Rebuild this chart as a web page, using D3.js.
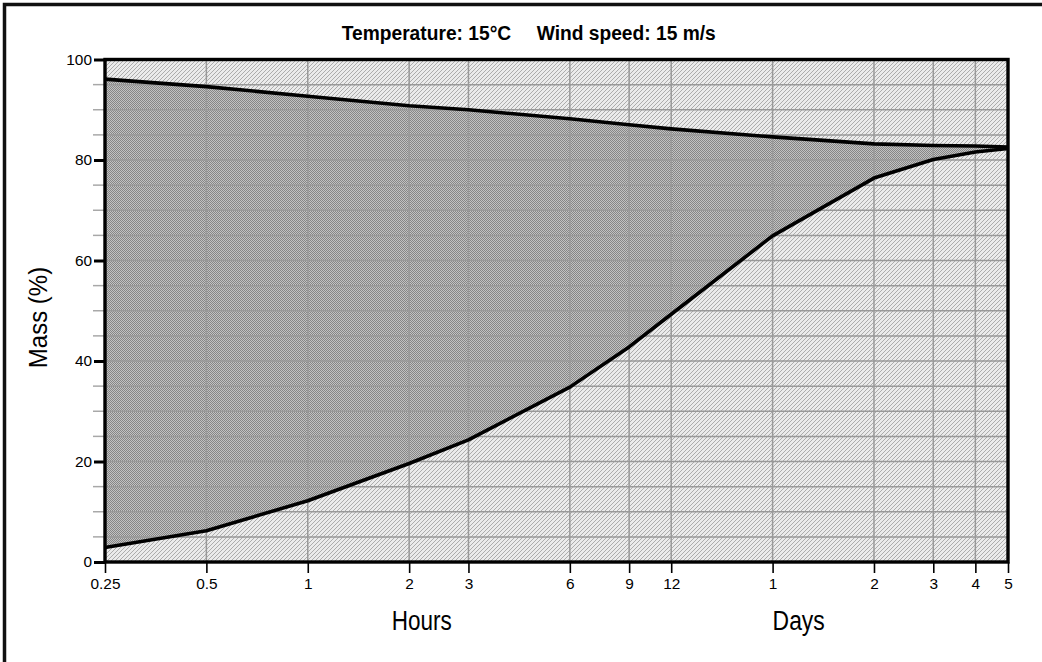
<!DOCTYPE html>
<html>
<head>
<meta charset="utf-8">
<script src="https://cdn.jsdelivr.net/npm/d3@7"></script>
<style>
  body { margin: 0; background: #ffffff; }
  #chartDiv { width: 1042px; height: 662px; }
  text { font-family: "Liberation Sans", Arial, sans-serif; fill: #000; }
</style>
</head>
<body>
<div id="chartDiv"></div>
<script>
//----------------------------------------------------------------------------------------------------
// evaporation chart: mass remaining (%) against time, log time axis
//----------------------------------------------------------------------------------------------------
var timeHours   = [0.25, 0.5, 1, 2, 3, 6, 9, 12, 24, 48, 72, 96, 120];
var timeLabels  = ["0.25", "0.5", "1", "2", "3", "6", "9", "12", "1", "2", "3", "4", "5"];
var upperMass   = [96.1, 94.6, 92.7, 90.8, 90.0, 88.2, 87.0, 86.2, 84.6, 83.2, 82.9, 82.8, 82.6];
var lowerMass   = [2.9, 6.2, 12.2, 19.6, 24.3, 34.8, 42.8, 49.3, 64.9, 76.4, 80.1, 81.6, 82.3];
var massTicks   = [0, 20, 40, 60, 80, 100];
var massMinor   = [5, 10, 15, 25, 30, 35, 45, 50, 55, 65, 70, 75, 85, 90, 95];
var titleParts  = ["Temperature: 15\u00b0C", "Wind speed: 15 m/s"];

var width = 1042;
var height = 662;
var plotLeft = 105, plotRight = 1008, plotTop = 59.5, plotBottom = 562;

var xScale, yScale;
//----------------------------------------------------------------------------------------------------
function makePatterns(defs)
{
   // light hatch outside the band
   var light = defs.append("pattern")
       .attr("id", "lightFill")
       .attr("patternUnits", "userSpaceOnUse")
       .attr("width", 4).attr("height", 4);
   light.append("rect").attr("width", 4).attr("height", 4).attr("fill", "#ebebeb");
   for(var i=0; i < 4; i++){
      light.append("rect").attr("x", i).attr("y", 3 - i)
           .attr("width", 1).attr("height", 1).attr("fill", "#acacac");
      }

   // dense dotted fill between the curves
   var dark = defs.append("pattern")
       .attr("id", "darkFill")
       .attr("patternUnits", "userSpaceOnUse")
       .attr("width", 2).attr("height", 2);
   dark.append("rect").attr("width", 2).attr("height", 2).attr("fill", "#c2c2c2");
   dark.append("rect").attr("x", 0).attr("y", 0).attr("width", 1).attr("height", 1).attr("fill", "#868686");
   dark.append("rect").attr("x", 1).attr("y", 1).attr("width", 1).attr("height", 1).attr("fill", "#868686");

} // makePatterns
//----------------------------------------------------------------------------------------------------
function drawChart()
{
   var svg = d3.select("#chartDiv")
       .append("svg")
       .attr("width", width)
       .attr("height", height);

   makePatterns(svg.append("defs"));

   xScale = d3.scaleLog()
       .domain([0.25, 120])
       .range([plotLeft, plotRight]);

   yScale = d3.scaleLinear()
       .domain([0, 100])
       .range([plotBottom, plotTop]);

   // outer frame, runs off the right and bottom edges
   svg.append("path")
      .attr("d", "M4.5," + (height + 5) + "V4.5H" + (width + 5))
      .attr("fill", "none")
      .attr("stroke", "#111")
      .attr("stroke-width", 3.5);

   var series = timeHours.map(function(t, i){
      return {t: t, hi: upperMass[i], lo: lowerMass[i]};
      });

   // background and band
   svg.append("rect")
      .attr("x", plotLeft).attr("y", plotTop)
      .attr("width", plotRight - plotLeft).attr("height", plotBottom - plotTop)
      .attr("fill", "url(#lightFill)")
      .attr("shape-rendering", "crispEdges");

   var band = d3.area()
       .x(function(d){ return xScale(d.t); })
       .y0(function(d){ return yScale(d.lo); })
       .y1(function(d){ return yScale(d.hi); });

   svg.append("path")
      .datum(series)
      .attr("d", band)
      .attr("fill", "url(#darkFill)");

   // grid
   var grid = svg.append("g").attr("stroke", "#999").attr("stroke-width", 1.5);
   grid.selectAll("line.h")
       .data(massTicks.concat(massMinor))
       .enter().append("line")
       .attr("x1", plotLeft).attr("x2", plotRight)
       .attr("y1", function(d){ return yScale(d); })
       .attr("y2", function(d){ return yScale(d); });
   grid.selectAll("line.v")
       .data(timeHours)
       .enter().append("line")
       .attr("y1", plotTop).attr("y2", plotBottom)
       .attr("x1", function(d){ return xScale(d); })
       .attr("x2", function(d){ return xScale(d); });

   // minor y ticks, grey
   svg.append("g").selectAll("line")
      .data(massMinor)
      .enter().append("line")
      .attr("x1", plotLeft - 12).attr("x2", plotLeft)
      .attr("y1", function(d){ return yScale(d); })
      .attr("y2", function(d){ return yScale(d); })
      .attr("stroke", "#a8a8a8")
      .attr("stroke-width", 1.5);

   // the two curves
   var upperLine = d3.line()
       .x(function(d){ return xScale(d.t); })
       .y(function(d){ return yScale(d.hi); });
   var lowerLine = d3.line()
       .x(function(d){ return xScale(d.t); })
       .y(function(d){ return yScale(d.lo); });

   [upperLine, lowerLine].forEach(function(gen){
      svg.append("path")
         .datum(series)
         .attr("d", gen)
         .attr("fill", "none")
         .attr("stroke", "#000")
         .attr("stroke-width", 3.6)
         .attr("stroke-linejoin", "round");
      });

   // axes
   const xAxis = d3.axisBottom(xScale)
         .tickValues(timeHours)
         .tickFormat(function(d, i){ return timeLabels[i]; })
         .tickSize(11)
         .tickPadding(5.5)
         .tickSizeOuter(0);

   const yAxis = d3.axisLeft(yScale)
         .tickValues(massTicks)
         .tickSize(11)
         .tickPadding(2)
         .tickSizeOuter(0);

   var gx = svg.append("g")
      .attr("transform", "translate(0," + plotBottom + ")")
      .call(xAxis);
   gx.select(".domain").remove();
   gx.selectAll(".tick line").attr("stroke", "#000").attr("stroke-width", 1.6);
   gx.selectAll(".tick text").attr("font-size", "15.4px").attr("font-family", "Liberation Sans, Arial, sans-serif");

   var gy = svg.append("g")
      .attr("transform", "translate(" + plotLeft + ",0)")
      .call(yAxis);
   gy.select(".domain").remove();
   gy.selectAll(".tick line").attr("stroke", "#000").attr("stroke-width", 3);
   gy.selectAll(".tick text").attr("font-size", "15.4px").attr("font-family", "Liberation Sans, Arial, sans-serif");

   // plot border
   svg.append("rect")
      .attr("x", plotLeft).attr("y", plotTop)
      .attr("width", plotRight - plotLeft).attr("height", plotBottom - plotTop)
      .attr("fill", "none")
      .attr("stroke", "#000")
      .attr("stroke-width", 3.4);

   // title, slightly tall lettering
   var titleX = [341.7, 536.7];
   titleParts.forEach(function(s, i){
      svg.append("text")
         .attr("transform", "translate(" + titleX[i] + ",40) scale(1,1.09)")
         .attr("font-size", "19.2px")
         .attr("font-weight", "bold")
         .text(s);
      });

   // axis titles
   svg.append("text")
      .attr("transform", "translate(47.3,317.5) rotate(-90) scale(1,1.1)")
      .attr("text-anchor", "middle")
      .attr("font-size", "24px")
      .text("Mass (%)");

   svg.append("text")
      .attr("transform", "translate(391.7,630) scale(1,1.24)")
      .attr("font-size", "22.5px")
      .text("Hours");

   svg.append("text")
      .attr("transform", "translate(" + xScale(24) + ",630) scale(1,1.22)")
      .attr("font-size", "22.9px")
      .text("Days");

} // drawChart
//----------------------------------------------------------------------------------------------------
drawChart();
//----------------------------------------------------------------------------------------------------
</script>
</body>
</html>
